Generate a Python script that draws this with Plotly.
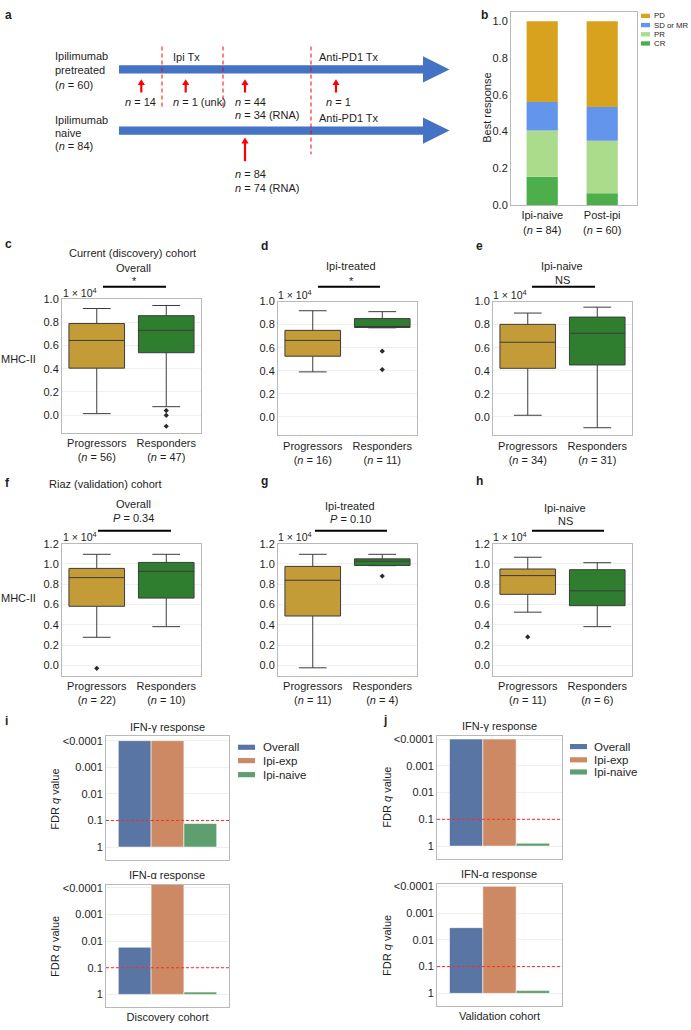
import numpy as np
import plotly.graph_objects as go

W, H = 691, 1030
FONT = "Liberation Sans, Arial, Helvetica, sans-serif"
TXT = "#1e1e1e"

# ---------------- data ----------------
# panel b : best response fractions
resp_groups = ["Ipi-naive", "Post-ipi"]
resp_n = [84, 60]
resp_levels = ["CR", "PR", "SD or MR", "PD"]
frac_cr = [0.155, 0.065]
frac_pr = [0.250, 0.285]
frac_sd = [0.155, 0.183]
frac_pd = [0.440, 0.467]
resp_colors = ["#4DAE4C", "#AADC8C", "#6495ED", "#D9A21E"]

# panels c-h : MHC-II box plots (values x 1e4)
box_groups = ["Progressors", "Responders"]
box_colors = ["#C39B37", "#2F7E2F"]

c_n = [56, 47]
c_q1 = [0.405, 0.538]
c_med = [0.644, 0.732]
c_q3 = [0.790, 0.858]
c_low = [0.012, 0.072]
c_high = [0.920, 0.946]
c_out = [[], [0.038, -0.003, -0.097]]

d_n = [16, 11]
d_q1 = [0.526, 0.775]
d_med = [0.663, 0.783]
d_q3 = [0.750, 0.852]
d_low = [0.390, 0.772]
d_high = [0.920, 0.912]
d_out = [[], [0.57, 0.41]]

e_n = [34, 31]
e_q1 = [0.421, 0.450]
e_med = [0.647, 0.725]
e_q3 = [0.802, 0.865]
e_low = [0.014, -0.094]
e_high = [0.900, 0.951]
e_out = [[], []]

f_n = [22, 10]
f_q1 = [0.582, 0.663]
f_med = [0.865, 0.927]
f_q3 = [0.956, 1.015]
f_low = [0.276, 0.381]
f_high = [1.095, 1.095]
f_out = [[-0.03], []]

g_n = [11, 4]
g_q1 = [0.486, 0.985]
g_med = [0.839, 1.027]
g_q3 = [0.976, 1.050]
g_low = [-0.025, 0.983]
g_high = [1.095, 1.095]
g_out = [[], [0.88]]

h_n = [11, 6]
h_q1 = [0.700, 0.588]
h_med = [0.885, 0.735]
h_q3 = [0.950, 0.943]
h_low = [0.524, 0.381]
h_high = [1.066, 1.012]
h_out = [[0.28], []]

# panels i-j : FDR q values
ifn_groups = ["Overall", "Ipi-exp", "Ipi-naive"]
ifn_colors = ["#5975A4", "#CC8963", "#5F9E6E"]
disc_ifng_q = [1e-4, 1e-4, 0.13]
disc_ifna_q = [0.017, 1e-5, 0.82]
val_ifng_q = [1e-4, 1e-4, 0.78]
val_ifna_q = [0.0035, 1e-4, 0.79]
q_tickvals = [0, 1, 2, 3, 4]
q_ticktext = ["1", "0.1", "0.01", "0.001", "&lt;0.0001"]

# ---------------- helpers ----------------
def X(px):
    return px / W


def Y(py):
    return 1 - py / H


annotations = []
shapes = []
layout_axes = {}
fig = go.Figure()


def text(x, y, s, size=11, xa="center", ya="middle", angle=0, bold=False, color=TXT):
    if bold:
        s = f"<b>{s}</b>"
    annotations.append(dict(x=X(x), y=Y(y), xref="paper", yref="paper", text=s,
                            showarrow=False, xanchor=xa, yanchor=ya, textangle=angle,
                            font=dict(family=FONT, size=size, color=color)))


def poly(pts, color):
    d = "M " + " L ".join(f"{X(px):.5f},{Y(py):.5f}" for px, py in pts) + " Z"
    shapes.append(dict(type="path", path=d, xref="paper", yref="paper",
                       fillcolor=color, line=dict(width=0), layer="above"))


def pline(x0, y0, x1, y1, color, width=1.0, dash="solid"):
    shapes.append(dict(type="line", xref="paper", yref="paper", x0=X(x0), y0=Y(y0),
                       x1=X(x1), y1=Y(y1), line=dict(color=color, width=width, dash=dash)))


def red_arrow(cx, tip, tail):
    hw, hh, sw = 3.6, 6.0, 1.1
    poly([(cx, tip), (cx + hw, tip + hh), (cx + sw, tip + hh), (cx + sw, tail),
          (cx - sw, tail), (cx - sw, tip + hh), (cx - hw, tip + hh)], "#ff0000")


def axes(i, xpx, ypx, xr, yr, xkw=None, ykw=None):
    sx = "" if i == 1 else str(i)
    base = dict(showline=True, mirror=True, linecolor="#b9b9b9", linewidth=1,
                zeroline=False, ticks="", fixedrange=True,
                tickfont=dict(family=FONT, size=11, color=TXT))
    layout_axes["xaxis" + sx] = {**base, "domain": [X(xpx[0]), X(xpx[1])], "range": xr,
                                 "anchor": "y" + sx, "showgrid": False, **(xkw or {})}
    layout_axes["yaxis" + sx] = {**base, "domain": [Y(ypx[1]), Y(ypx[0])], "range": yr,
                                 "anchor": "x" + sx, "showgrid": True,
                                 "gridcolor": "#efefef", **(ykw or {})}


# ---------------- panel a : timeline ----------------
text(3, 9, "a", size=12, xa="left", bold=True)
BLUE = "#4472C4"
for yc, sh, hd in [(64.2, 4.2, 13.3), (126.0, 4.2, 13.3)]:
    poly([(119, yc - sh), (423, yc - sh), (423, yc - hd), (449.5, yc), (423, yc + hd),
          (423, yc + sh), (119, yc + sh)], BLUE)
for xv, y1 in [(162, 102), (223, 103), (311, 150)]:
    pline(xv, 41, xv, y1, "#ff0000", 1, "4px,3px")
for xv in [141.3, 185.7, 245, 336]:
    red_arrow(xv, 74, 87.5)
red_arrow(245, 133, 157)
text(53, 51, "Ipilimumab", xa="left")
text(53, 65, "pretreated", xa="left")
text(53, 80, "(<i>n</i> = 60)", xa="left")
text(53, 115, "Ipilimumab", xa="left")
text(53, 128.5, "naive", xa="left")
text(53, 142, "(<i>n</i> = 84)", xa="left")
text(171, 52, "Ipi Tx", xa="left")
text(316.5, 52, "Anti-PD1 Tx", xa="left")
text(316.5, 113.5, "Anti-PD1 Tx", xa="left")
text(122.5, 97, "<i>n</i> = 14", xa="left")
text(170.5, 97, "<i>n</i> = 1 (unk)", xa="left")
text(233, 97, "<i>n</i> = 44", xa="left")
text(233, 110.5, "<i>n</i> = 34 (RNA)", xa="left")
text(324, 97, "<i>n</i> = 1", xa="left")
text(233, 170, "<i>n</i> = 84", xa="left")
text(233, 184.5, "<i>n</i> = 74 (RNA)", xa="left")

# ---------------- panel b : stacked bars ----------------
text(479, 9, "b", size=12, xa="left", bold=True)
axes(1, (511, 637), (6, 201.5), [-0.52, 1.58], [0, 1.05],
     xkw=dict(type="category", tickvals=resp_groups,
              ticktext=[f"{g}<br>(<i>n</i> = {n})" for g, n in zip(resp_groups, resp_n)]),
     ykw=dict(showgrid=False, tickvals=[0, 0.2, 0.4, 0.6, 0.8, 1.0], tickformat=".1f"))
cum = np.zeros(len(resp_groups))
for lvl, vals, col in zip(resp_levels, [frac_cr, frac_pr, frac_sd, frac_pd], resp_colors):
    fig.add_trace(go.Bar(x=resp_groups, y=vals, base=list(cum), width=0.52, name=lvl,
                         offsetgroup="b", marker=dict(color=col, line=dict(width=0)),
                         xaxis="x", yaxis="y", showlegend=False, hoverinfo="skip"))
    cum = cum + np.array(vals)
text(487, 103, "Best response", angle=-90)
for k, (lvl, col) in enumerate(zip(resp_levels[::-1], resp_colors[::-1])):
    yc = 10 + 9.3 * k
    poly([(641, yc - 2.2), (650, yc - 2.2), (650, yc + 2.2), (641, yc + 2.2)], col)
    text(652, yc, lvl, size=7.8, xa="left")

# ---------------- panels c-h : box plots ----------------
def box_panel(i, xpx, ypx, yr, ytick, n, q1, med, q3, low, high, outs):
    sx = str(i)
    axes(i, xpx, ypx, [-0.5, 1.5], yr,
         xkw=dict(type="category", tickvals=box_groups,
                  ticktext=[f"{g}<br>(<i>n</i> = {m})" for g, m in zip(box_groups, n)]),
         ykw=dict(tickvals=ytick, tickformat=".1f"))
    for k, g in enumerate(box_groups):
        fig.add_trace(go.Box(x=[g], q1=[q1[k]], median=[med[k]], q3=[q3[k]],
                             lowerfence=[low[k]], upperfence=[high[k]], width=0.8,
                             whiskerwidth=0.5, fillcolor=box_colors[k],
                             line=dict(color="#3c3c3c", width=1), boxpoints=False,
                             xaxis="x" + sx, yaxis="y" + sx, showlegend=False,
                             hoverinfo="skip"))
        if outs[k]:
            fig.add_trace(go.Scatter(x=[g] * len(outs[k]), y=outs[k], mode="markers",
                                     marker=dict(symbol="diamond", size=4, color="#2a2a2a"),
                                     xaxis="x" + sx, yaxis="y" + sx, showlegend=False,
                                     hoverinfo="skip"))


t1 = [0, 0.2, 0.4, 0.6, 0.8, 1.0]
t2 = [0, 0.2, 0.4, 0.6, 0.8, 1.0, 1.2]
box_panel(2, (62, 201), (296.7, 432), [-0.155, 1.0], t1, c_n, c_q1, c_med, c_q3, c_low, c_high, c_out)
box_panel(3, (278, 417), (299, 434.4), [-0.16, 1.0], t1, d_n, d_q1, d_med, d_q3, d_low, d_high, d_out)
box_panel(4, (493, 632), (299, 434.4), [-0.16, 1.0], t1, e_n, e_q1, e_med, e_q3, e_low, e_high, e_out)
box_panel(5, (62, 201), (544, 677.7), [-0.104, 1.2], t2, f_n, f_q1, f_med, f_q3, f_low, f_high, f_out)
box_panel(6, (278, 417), (544, 677.7), [-0.104, 1.2], t2, g_n, g_q1, g_med, g_q3, g_low, g_high, g_out)
box_panel(7, (493, 632), (544, 677.7), [-0.104, 1.2], t2, h_n, h_q1, h_med, h_q3, h_low, h_high, h_out)

SUP = "1 × 10<sup>4</sup>"
# c
text(3, 241, "c", size=12, xa="left", bold=True)
text(132, 250, "Current (discovery) cohort")
text(133, 265, "Overall")
text(134, 278, "*")
pline(103, 284, 166, 284, "#000000", 2)
text(61, 290, SUP, size=10.5, xa="left")
text(18, 357, "MHC-II")
# d
text(259, 243, "d", size=12, xa="left", bold=True)
text(351, 263, "Ipi-treated")
text(351, 278, "*")
pline(318, 284, 380, 284, "#000000", 2)
text(276, 292, SUP, size=10.5, xa="left")
# e
text(474, 243, "e", size=12, xa="left", bold=True)
text(562, 263, "Ipi-naive")
text(562, 277, "NS")
pline(532, 284, 595, 284, "#000000", 2)
text(491, 292, SUP, size=10.5, xa="left")
# f
text(3, 483, "f", size=12, xa="left", bold=True)
text(105, 484, "Riaz (validation) cohort")
text(133, 504, "Overall")
text(133, 518, "<i>P</i> = 0.34")
pline(98, 531, 171, 531, "#000000", 2)
text(61, 537, SUP, size=10.5, xa="left")
text(18, 599, "MHC-II")
# g
text(259, 481, "g", size=12, xa="left", bold=True)
text(350, 506, "Ipi-treated")
text(350, 519, "<i>P</i> = 0.10")
pline(315, 531, 387, 531, "#000000", 2)
text(276, 537, SUP, size=10.5, xa="left")
# h
text(474, 481, "h", size=12, xa="left", bold=True)
text(565, 508, "Ipi-naive")
text(565, 521, "NS")
pline(532, 531, 604, 531, "#000000", 2)
text(491, 537, SUP, size=10.5, xa="left")

# ---------------- panels i-j : FDR bars ----------------
def ifn_panel(i, xpx, ypx, yr, qvals, cohort, show_x):
    sx = str(i)
    axes(i, xpx, ypx, [-0.5, 0.5], yr,
         xkw=dict(type="category", showticklabels=show_x),
         ykw=dict(tickvals=q_tickvals, ticktext=q_ticktext))
    yv = -np.log10(np.array(qvals))
    for k, g in enumerate(ifn_groups):
        fig.add_trace(go.Bar(x=[cohort], y=[yv[k]], name=g, marker=dict(
            color=ifn_colors[k], line=dict(color="rgba(255,255,255,0.7)", width=0.8)),
            xaxis="x" + sx, yaxis="y" + sx, showlegend=False, hoverinfo="skip"))
    shapes.append(dict(type="line", xref=f"x{sx} domain", yref=f"y{sx}", x0=0, x1=1,
                       y0=1, y1=1, line=dict(color="#ff2a2a", width=1, dash="3px,2px"),
                       layer="above"))


ifn_panel(8, (106, 229), (739, 864), [-0.483, 4.16], disc_ifng_q, "Discovery cohort", False)
ifn_panel(9, (106, 229), (889, 1012.7), [-0.47, 4.12], disc_ifna_q, "Discovery cohort", True)
ifn_panel(10, (437, 562), (738.7, 863), [-0.48, 4.11], val_ifng_q, "Validation cohort", False)
ifn_panel(11, (437, 562), (888, 1012), [-0.48, 4.10], val_ifna_q, "Validation cohort", True)

text(3, 723, "i", size=12, xa="left", bold=True)
text(167, 730, "IFN-γ response")
text(167, 879, "IFN-α response")
text(55, 803, "FDR <i>q</i> value", angle=-90)
text(55, 952, "FDR <i>q</i> value", angle=-90)
text(381, 722, "j", size=12, xa="left", bold=True)
text(499, 728, "IFN-γ response")
text(499, 878, "IFN-α response")
text(387, 800, "FDR <i>q</i> value", angle=-90)
text(387, 950, "FDR <i>q</i> value", angle=-90)

for (px0, px1, tx, ys) in [(238, 255, 261, [750, 763.5, 777.7]),
                           (570, 587, 592, [749.3, 762.7, 775])]:
    for g, col, yc in zip(ifn_groups, ifn_colors, ys):
        poly([(px0, yc - 2.6), (px1, yc - 2.6), (px1, yc + 2.6), (px0, yc + 2.6)], col)
        text(tx, yc, g, size=11.5, xa="left")

fig.update_layout(
    width=W, height=H, margin=dict(l=0, r=0, t=0, b=0),
    paper_bgcolor="white", plot_bgcolor="white",
    barmode="group", bargap=0.2, bargroupgap=0,
    showlegend=False, annotations=annotations, shapes=shapes,
    font=dict(family=FONT, size=11, color=TXT),
    hovermode=False,
    **layout_axes,
)
fig.write_html("out.html",
               config={"displayModeBar": False, "staticPlot": True},
               post_script="document.body.style.margin='0px';"
                           "document.body.style.padding='0px';"
                           "document.body.style.overflow='hidden';")
